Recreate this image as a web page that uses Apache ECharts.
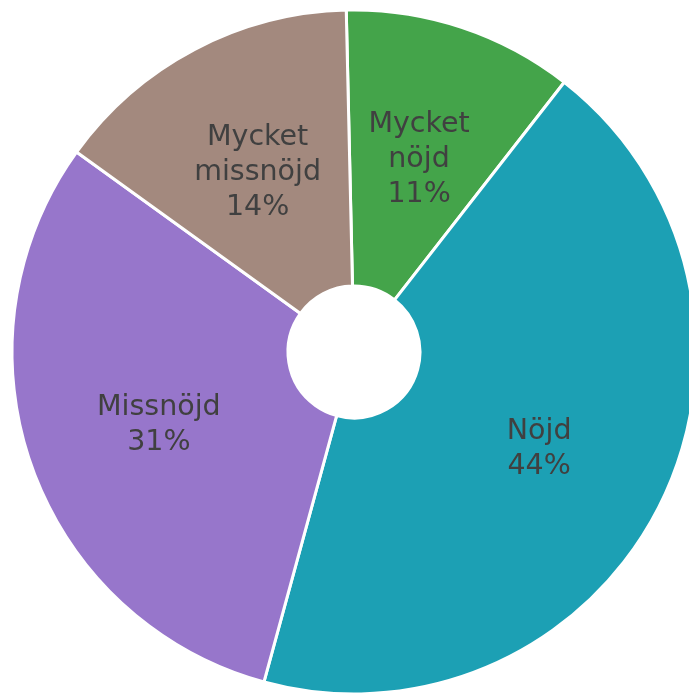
<!DOCTYPE html>
<html>
<head>
<meta charset="utf-8">
<script src="https://cdn.jsdelivr.net/npm/echarts@6/dist/echarts.min.js"></script>
<style>
  html, body { margin: 0; padding: 0; background: #fff; }
  #chart { width: 689px; height: 694px; }
</style>
</head>
<body>
<div id="chart"></div>
<script>
// nöjdhet (andelar)
const categories = ["Mycket nöjd", "Nöjd", "Missnöjd", "Mycket missnöjd"];
const values = [10.9, 43.7, 30.7, 14.7];
const pctLabels = ["11%", "44%", "31%", "14%"];
const colors = ["#44a44a", "#1ca0b4", "#9776cb", "#a3897e"];

const chart = echarts.init(document.getElementById("chart"));

chart.setOption({
  animation: false,
  series: [
    {
      type: "pie",
      center: [354, 352],
      radius: [66, 342],
      startAngle: 91.3,
      clockwise: true,
      avoidLabelOverlap: false,
      itemStyle: { borderColor: "#fff", borderWidth: 3 },
      label: {
        show: true,
        position: "inside",
        color: "#404040",
        fontFamily: "DejaVu Sans",
        fontSize: 28.5,
        lineHeight: 35,
        align: "center",
        offset: [0, 4],
        formatter: (p) => p.name.replace(" ", "\n") + "\n" + pctLabels[p.dataIndex],
      },
      labelLine: { show: false },
      emphasis: { disabled: true },
      data: categories.map((name, i) => ({
        name,
        value: values[i],
        itemStyle: { color: colors[i] },
      })),
    },
  ],
});
</script>
</body>
</html>
